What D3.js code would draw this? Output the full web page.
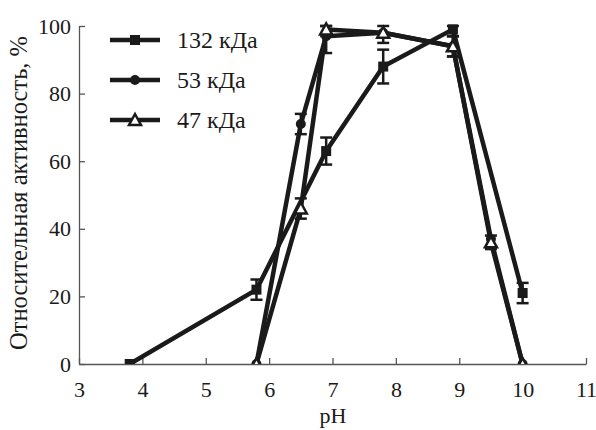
<!DOCTYPE html>
<html><head><meta charset="utf-8">
<script src="https://cdn.jsdelivr.net/npm/d3@7/dist/d3.min.js"></script>
<style>body{margin:0;background:#fff}svg{display:block}
text{font-family:"Liberation Serif","DejaVu Serif",serif}</style>
</head><body><svg id="c" width="596" height="430"></svg>
<script>
const xTicks = [3,4,5,6,7,8,9,10,11];
const yTicks = [0,20,40,60,80,100];
const seriesNames = ["132 кДа","53 кДа","47 кДа"];
const ph132 = [3.8,5.8,6.9,7.8,8.9,10.0];
const val132 = [0,22,63,88,99,21];
const err132 = [0,3,4,5,2,3];
const ph53 = [5.8,6.5,6.9,7.8,8.9,9.5,10.0];
const val53 = [0,71,97,98,94,37,0];
const err53 = [0,3,5,0,3,0,0];
const ph47 = [5.8,6.5,6.9,7.8,8.9,9.5,10.0];
const val47 = [0,46,99,98,94,36,0];
const err47 = [0,3,2,3,3,2,0];

const svg = d3.select("#c");
const x = d3.scaleLinear().domain([3,11]).range([79,586]);
const y = d3.scaleLinear().domain([0,100]).range([364,26]);
const col = "#1a1a1a";

svg.append("defs").append("clipPath").attr("id","plot")
  .append("rect").attr("x",79).attr("y",0).attr("width",520).attr("height",364);

const xa = svg.append("g").attr("transform","translate(0,364)")
  .call(d3.axisBottom(x).tickValues(xTicks).tickSize(-6).tickPadding(17).tickSizeOuter(0));
const ya = svg.append("g").attr("transform","translate(79,0)")
  .call(d3.axisLeft(y).tickValues(yTicks).tickSize(-6).tickPadding(8).tickSizeOuter(0));
[xa,ya].forEach(a=>{
  a.attr("font-family",null);
  a.selectAll("path,line").attr("stroke","#555").attr("stroke-width",1.3);
  a.selectAll("text").attr("font-size",22).attr("fill",col);
});
xa.selectAll("text").attr("dy","0.71em");

svg.append("text").attr("x",333).attr("y",423).attr("text-anchor","middle")
  .attr("font-size",22).attr("fill",col).text("pH");
svg.append("text").attr("transform","translate(27,193) rotate(-90)").attr("text-anchor","middle")
  .attr("font-size",24.5).attr("fill",col).text("Относительная активность, %");

const series = [
  {name:seriesNames[0], ph:ph132, v:val132, e:err132, m:"square"},
  {name:seriesNames[1], ph:ph53, v:val53, e:err53, m:"circle"},
  {name:seriesNames[2], ph:ph47, v:val47, e:err47, m:"triangle"}
];
const line = d3.line().x(d=>x(d[0])).y(d=>y(d[1]));
function marker(g, m, cx, cy){
  if(m==="square") g.append("rect").attr("x",cx-5).attr("y",cy-5).attr("width",10).attr("height",10).attr("fill",col);
  else if(m==="circle") g.append("circle").attr("cx",cx).attr("cy",cy).attr("r",5).attr("fill",col);
  else g.append("path").attr("d",`M${cx},${cy-6}L${cx+6},${cy+5}L${cx-6},${cy+5}Z`)
        .attr("fill","#fff").attr("stroke",col).attr("stroke-width",2.5);
}
const plot = svg.append("g").attr("clip-path","url(#plot)");
series.forEach(s=>{
  const pts = s.ph.map((p,i)=>[p,s.v[i],s.e[i]]);
  plot.append("path").attr("d",line(pts)).attr("fill","none").attr("stroke",col)
    .attr("stroke-width",4.5).attr("stroke-linejoin","round");
});
series.forEach(s=>{
  const g = plot.append("g");
  s.ph.forEach((p,i)=>{
    const cx=x(p), v=s.v[i], e=s.e[i];
    if(e>0){
      const t=y(Math.min(100,v+e)), b=y(v-e);
      g.append("line").attr("x1",cx).attr("x2",cx).attr("y1",t).attr("y2",b).attr("stroke",col).attr("stroke-width",2.5);
      [t,b].forEach(yy=>g.append("line").attr("x1",cx-6).attr("x2",cx+6).attr("y1",yy).attr("y2",yy).attr("stroke",col).attr("stroke-width",2.5));
    }
    marker(g,s.m,cx,y(v));
  });
});
// legend
series.forEach((s,i)=>{
  const ly = 40 + i*40;
  const g = svg.append("g");
  g.append("line").attr("x1",110).attr("x2",160).attr("y1",ly).attr("y2",ly).attr("stroke",col).attr("stroke-width",4.5);
  marker(g,s.m,135,ly);
  g.append("text").attr("x",177).attr("y",ly).attr("dy","0.35em")
    .attr("font-size",24).attr("fill",col).text(s.name);
});
</script></body></html>
